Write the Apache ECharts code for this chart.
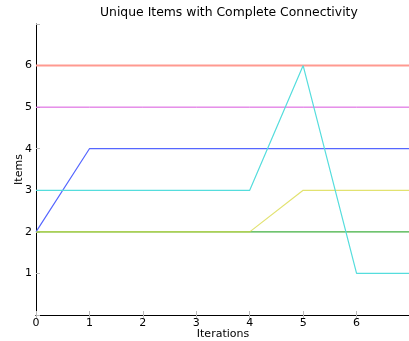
<!DOCTYPE html>
<html><head><meta charset="utf-8">
<script src="https://cdn.jsdelivr.net/npm/echarts@6/dist/echarts.min.js"></script>
<style>html,body{margin:0;padding:0;background:#fff}#c{width:409px;height:341px}</style>
</head><body><div id="c"></div>
<script>
const iterations = [0, 1, 2, 3, 4, 5, 6, 7];
const redSeries     = [6, 6, 6, 6, 6, 6, 6, 6];
const magentaSeries = [5, 5, 5, 5, 5, 5, 5, 5];
const blueSeries    = [2, 4, 4, 4, 4, 4, 4, 4];
const cyanSeries    = [3, 3, 3, 3, 3, 6, 1, 1];
const greenSeries   = [2, 2, 2, 2, 2, 2, 2, 2];
const yellowSeries  = [2, 2, 2, 2, 2, 3, 3, 3];
const xTickLabels = ['0','1','2','3','4','5','6',''];
const yTickLabels = ['','1','2','3','4','5','6',''];

const pairs = arr => iterations.map((x, i) => [x, arr[i]]);
const font = 'DejaVu Sans';
const chart = echarts.init(document.getElementById('c'), null, {renderer: 'canvas'});
const mk = (name, data, color, width, z, opacity) => ({
  name, type: 'line', data: pairs(data), symbol: 'none', z,
  lineStyle: {color, width, opacity: opacity == null ? 1 : opacity}, animation: false
});
chart.setOption({
  animation: false,
  title: {text: 'Unique Items with Complete Connectivity', left: 95, top: 2,
    textStyle: {fontFamily: font, fontSize: 12.4, fontWeight: 'normal', color: '#000'}},
  grid: {left: 36, top: 24, width: 374, height: 291, show: false, containLabel: false, outerBoundsMode: 'none'},
  xAxis: [{
    type: 'value', min: 0, max: 7, interval: 1,
    name: 'Iterations', nameLocation: 'middle', nameGap: 14, nameMoveOverlap: false,
    nameTextStyle: {fontFamily: font, fontSize: 11, color: '#000'},
    axisLine: {show: true, onZero: false, lineStyle: {color: '#000', width: 1}},
    axisTick: {show: true, inside: true, length: 4, lineStyle: {color: '#bbb'}},
    axisLabel: {fontFamily: font, fontSize: 11, color: '#000', margin: 3,
      formatter: v => xTickLabels[Math.round(v)] ?? ''},
    splitLine: {show: false}
  }, {
    type: 'value', min: 0, max: 7, interval: 1, position: 'top',
    axisLine: {show: true, lineStyle: {color: '#000', width: 1}},
    axisTick: {show: true, inside: true, length: 4, lineStyle: {color: '#bbb'}},
    axisLabel: {show: false}, splitLine: {show: false}
  }],
  yAxis: [{
    type: 'value', min: 0, max: 7, interval: 1,
    name: 'Items', nameLocation: 'middle', nameGap: 11, nameRotate: 90, nameMoveOverlap: false,
    nameTextStyle: {fontFamily: font, fontSize: 11, color: '#000'},
    axisLine: {show: true, onZero: false, lineStyle: {color: '#000', width: 1}},
    axisTick: {show: true, inside: true, length: 4, lineStyle: {color: '#bbb'}},
    axisLabel: {fontFamily: font, fontSize: 11, color: '#000', margin: 4,
      formatter: v => yTickLabels[Math.round(v)] ?? ''},
    splitLine: {show: false}
  }],
  series: [
    mk('red', redSeries, '#ff9990', 2, 2),
    mk('magenta', magentaSeries, '#d855dd', 1, 2),
    mk('blue', blueSeries, '#5566ff', 1.2, 3),
    mk('cyan', cyanSeries, '#55dddd', 1.2, 4),
    mk('green', greenSeries, '#40b040', 1.2, 2),
    mk('yellow', yellowSeries, '#d8d840', 1.2, 3, 0.75)
  ]
});
</script></body></html>
